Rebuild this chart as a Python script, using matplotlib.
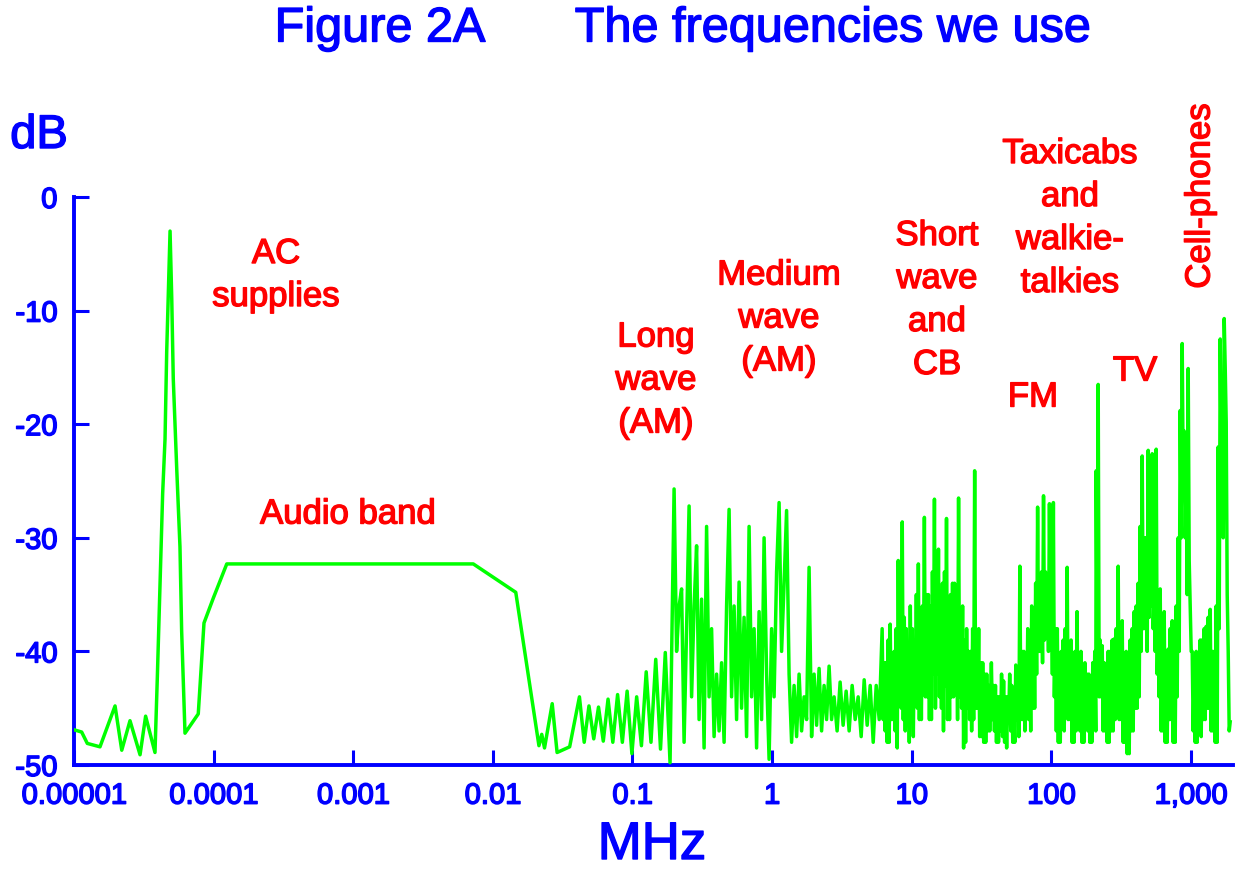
import numpy as np
import matplotlib
matplotlib.use('Agg')
import matplotlib.pyplot as plt
from matplotlib import patheffects

plt.rcParams['font.family'] = ['Liberation Sans', 'DejaVu Sans']

BLUE = '#0000ff'
RED = '#ff0000'
GREEN = '#00ff00'

# mains hum, audio band and its roll-off (MHz, dB)
low_freq = [1.0e-5, 1.135e-5, 1.245e-5, 1.535e-5, 1.968e-5, 2.198e-5, 2.518e-5,
            2.972e-5, 3.258e-5, 3.802e-5, 3.954e-5, 4.130e-5, 4.315e-5, 4.487e-5,
            4.613e-5, 4.875e-5, 5.012e-5, 5.140e-5, 5.445e-5, 5.741e-5, 5.902e-5,
            6.237e-5, 7.762e-5, 8.531e-5, 9.954e-5, 1.242e-4, 7.24e-3, 1.459e-2,
            2.138e-2, 2.239e-2, 2.344e-2, 2.661e-2, 2.884e-2, 3.548e-2]
low_db = [-46.9, -47.1, -48.1, -48.4, -44.8, -48.7, -46.1, -49.1, -45.7, -48.9,
          -42.2, -34.1, -26.1, -21.3, -13.6, -3.0, -8.9, -16.0, -24.0, -30.8,
          -38.2, -47.2, -45.5, -37.5, -35.3, -32.3, -32.3, -34.8, -48.3, -47.3,
          -48.5, -44.6, -48.9, -48.4]

# radio bands, each sampled evenly on the log axis between its two edge frequencies
vlf_range = (0.04169, 0.1858)
vlf_db = [-44.0, -48.0, -44.8, -47.7, -44.9, -47.9, -44.2, -48.0, -43.8, -48.0,
          -43.5, -49.0, -44.0, -48.3, -41.8, -48.0, -40.7, -48.6, -40.1, -49.8]

lw_mw_range = (0.1986, 2.667)
lw_mw_db = [-25.7, -40, -36, -34.5, -48, -38, -27.2, -44, -36, -30.7,
            -46, -35.4, -48.5, -29.0, -44, -38, -47.5, -42, -47, -41,
            -48, -36, -27.5, -44, -36, -46, -33.9, -45, -37, -47.5,
            -29.0, -44, -38, -48.5, -36.5, -46, -30.0, -42, -49.5, -38,
            -44, -33, -26.9, -40, -34, -27.6, -42, -48, -43, -47.5,
            -42, -47, -44, -46, -32.6, -47.5, -42, -46.5, -41.5, -47,
            -43, -46, -41.3, -46]

hf_low_range = (2.78, 5.85)
hf_low_db = [-44, -47, -42.7, -46.5, -43.5, -47, -43, -46, -44, -47.5,
             -42.5, -46.5, -43, -48, -43, -46]

# short wave and CB, 6 - 36 MHz
sw_range = (6.14, 36.2)
sw_db = [-38, -46, -41, -47, -41, -48, -39, -48, -37.6, -46,
         -42, -46, -40, -47, -38, -48.5, -32, -44, -40, -45,
         -28.6, -46, -37, -47, -38, -45, -40, -48, -36, -46,
         -38, -47.5, -39, -44, -35, -45, -32.3, -46, -37, -46,
         -36, -43, -28.2, -44, -35, -44, -35, -46, -36, -46,
         -33, -42, -26.6, -45, -34, -42, -31, -44, -35, -45,
         -34, -47, -33, -43, -28.3, -46, -36, -46, -35, -44,
         -34, -44, -34, -43, -36, -46, -26.5, -44, -37, -45,
         -36, -48.5, -39, -48, -38, -45, -40, -46, -40, -47,
         -38, -46, -24.1, -45, -39, -45, -38, -47.5, -41, -47.5,
         -41, -48, -42, -48, -42, -47, -43, -47]

# quiet stretch between CB and FM
gap_range = (37.2, 64.7)
gap_db = [-41, -46, -43, -47, -43, -48, -44, -48, -44, -47,
          -42, -47.5, -42.6, -48, -44, -48.5, -44, -46, -42, -47,
          -43, -48, -44, -48, -41.2, -46, -42, -47.5, -32.5, -46,
          -40, -46, -40, -47]

# FM broadcast and taxi radios
fm_range = (65.6, 208.0)
fm_db = [-41, -45, -38, -46, -40, -47, -36, -45, -37, -45,
         -34, -42, -27.3, -40, -35, -40, -33, -41, -26.3, -39,
         -33, -38, -34, -40, -27, -38, -34, -42, -26.9, -44,
         -38, -47, -38, -48, -41, -48, -40, -46, -39, -47,
         -38, -45, -32.6, -46, -40, -46, -39, -48, -42, -48,
         -40, -47, -36.5, -46, -41, -47, -40, -48, -42, -48,
         -41, -46, -42, -47, -42, -48, -43, -48, -41, -46,
         -40, -47]

# TV and cell-phones
uhf_range = (209.5, 1910)
uhf_db = [-24.1, -40, -16.5, -44, -39, -44, -39.5, -47, -41, -47,
          -42, -48, -40, -48, -40, -47, -39, -47, -38.9, -46,
          -38, -45, -32.5, -46, -38, -46, -37.3, -48, -41, -48,
          -40, -49, -41, -49, -39, -47, -38, -47, -36.5, -45,
          -36, -45, -34, -44, -29, -40, -22.8, -38, -30, -38,
          -30, -40, -22.3, -37, -28, -36, -22.6, -38, -33, -40,
          -22.2, -42, -36, -44, -34.5, -47, -39, -47, -36.5, -48,
          -40, -48, -39.8, -46, -38, -46, -37.3, -48, -39, -48,
          -36, -44, -30, -40, -18.8, -30, -12.9, -25, -20.6, -30,
          -25, -35, -15.1, -32, -36, -40, -40, -47, -42, -48,
          -40, -48, -41, -47, -39, -47.5, -39, -46, -38, -46,
          -37.8, -45, -37, -45, -36.3, -47, -40, -47, -40, -48,
          -36, -48, -22, -38, -12.5, -24, -20, -30, -10.7, -15,
          -19.8, -35, -40, -47, -46.2]

x_ticks = [1e-5, 1e-4, 1e-3, 1e-2, 1e-1, 1, 10, 100, 1000]
x_tick_labels = ['0.00001', '0.0001', '0.001', '0.01', '0.1', '1', '10', '100', '1,000']
y_ticks = [0, -10, -20, -30, -40, -50]
y_tick_labels = ['0', '-10', '-20', '-30', '-40', '-50']

# build the whole trace
freq = list(low_freq)
db = list(low_db)
for rng, vals in [(vlf_range, vlf_db), (lw_mw_range, lw_mw_db), (hf_low_range, hf_low_db),
                  (sw_range, sw_db), (gap_range, gap_db), (fm_range, fm_db),
                  (uhf_range, uhf_db)]:
    freq += list(np.geomspace(rng[0], rng[1], len(vals)))
    db += vals

W, H = 1236, 870
fig = plt.figure(figsize=(W / 100, H / 100), dpi=100)
ax = fig.add_axes([74 / W, 1 - 766 / H, (1233 - 74) / W, (766 - 198) / H])

ax.plot(freq, db, color=GREEN, lw=2.5, zorder=3)
ax.set_xscale('log')
ax.set_xlim(1e-5, 2000)
ax.set_ylim(-50, 0)

thick = [patheffects.withStroke(linewidth=1.1, foreground=BLUE)]
ax.set_xticks(x_ticks)
ax.set_xticklabels(x_tick_labels, path_effects=thick)
ax.minorticks_off()
ax.set_yticks(y_ticks)
ax.set_yticklabels(y_tick_labels, path_effects=thick)
ax.tick_params(direction='in', length=11, width=2.2, color=BLUE, labelcolor=BLUE,
               labelsize=21)
ax.tick_params(axis='x', pad=12)
ax.tick_params(axis='y', pad=12)

for s in ['top', 'right']:
    ax.spines[s].set_visible(False)
for s in ['left', 'bottom']:
    ax.spines[s].set_color(BLUE)
    ax.spines[s].set_linewidth(2.8)
ax.patch.set_visible(False)


def put(lines, cx, cy, size=25, color=RED, step=43, **kw):
    # lines of text centred on (cx, cy) in picture pixels
    top = cy - step * (len(lines) - 1) / 2
    for i, t in enumerate(lines):
        fig.text(cx / W, 1 - (top + i * step) / H, t, color=color, fontsize=size,
                 ha='center', va='center',
                 path_effects=[patheffects.withStroke(linewidth=1.0, foreground=color)],
                 **kw)


put(['Figure 2A'], 380, 30, size=35, color=BLUE)
put(['The frequencies we use'], 833, 30, size=35, color=BLUE)
put(['dB'], 39, 137, size=34, color=BLUE)
put(['MHz'], 652, 846, size=38, color=BLUE)

put(['AC', 'supplies'], 276, 276)
put(['Audio band'], 348, 515)
put(['Long', 'wave', '(AM)'], 656, 381)
put(['Medium', 'wave', '(AM)'], 779, 319)
put(['Short', 'wave', 'and', 'CB'], 937, 301)
put(['Taxicabs', 'and', 'walkie-', 'talkies'], 1070, 219)
put(['FM'], 1033, 398)
put(['TV'], 1135, 372)
put(['Cell-phones'], 1200, 197, rotation=90)

fig.savefig('out.png', dpi=100)
